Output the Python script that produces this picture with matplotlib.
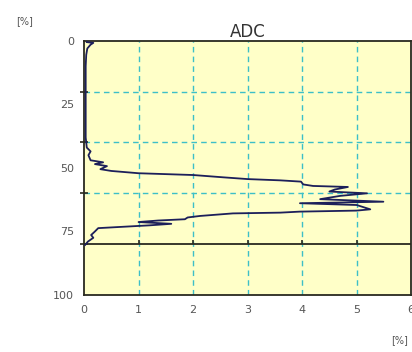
import matplotlib.pyplot as plt

# ADC profile: depth [%] vs value [%]
depth = [0.5, 0.8, 1.5, 3.0, 5.5, 10, 20, 30, 38, 42, 43.5, 45, 47, 47.8,
         48.5, 49.3, 50.5, 51.2, 52.1, 52.8, 53.7, 54.4, 54.9, 55.4, 56.5,
         57.1, 57.5, 58.5, 59.3, 60.0, 61.0, 62.3, 63.3, 63.9, 64.6, 66.3,
         66.8, 67.2, 67.6, 67.9, 68.9, 69.5, 70.2, 70.7, 71.3, 72.0, 72.6,
         73.3, 73.7, 75.0, 76.4, 77.5, 79.0, 80.3]
adc = [0.05, 0.17, 0.12, 0.06, 0.04, 0.03, 0.03, 0.03, 0.03, 0.05, 0.12,
       0.08, 0.12, 0.35, 0.2, 0.42, 0.3, 0.5, 1.0, 2.0, 2.55, 3.0, 3.6, 3.98,
       4.02, 4.2, 4.84, 4.6, 4.5, 5.19, 4.7, 4.33, 5.49, 3.96, 5.0, 5.25,
       5.0, 3.96, 3.6, 2.73, 2.13, 1.9, 1.85, 1.36, 1.0, 1.6, 1.2, 0.6, 0.26,
       0.2, 0.13, 0.17, 0.07, 0.02]

x_ticks = [0, 1, 2, 3, 4, 5, 6]
y_ticks = [0, 25, 50, 75, 100]
y_grid = [20, 40, 60]
y_limit = 80

fig = plt.figure(figsize=(4.12, 3.52), dpi=100)
ax = fig.add_axes([0.204, 0.162, 0.794, 0.722])
ax.set_facecolor('#ffffc8')

ax.set_xlim(0, 6)
ax.set_ylim(100, 0)

# grid
grid_style = dict(color='#3cbfc8', linestyle=(0, (4, 3)), linewidth=1.0, zorder=1)
for x in x_ticks[1:-1]:
    ax.axvline(x, **grid_style)
for y in y_grid:
    ax.axhline(y, **grid_style)
ax.axhline(y_limit, color='#2a2a20', linewidth=1.3, zorder=2)
ax.vlines(x_ticks[1:-1], y_limit, y_limit - 1.8, color='#2a2a20', linewidth=1.2, zorder=2)

# profile
ax.plot(adc, depth, color='#1c1f5a', linewidth=1.3, zorder=3)

ax.set_xticks(x_ticks)
ax.set_yticks(y_ticks)
ax.set_yticks(y_grid + [y_limit], minor=True)
ax.tick_params(axis='both', which='major', length=0, labelsize=8,
               labelcolor='#555555', pad=7)
ax.tick_params(axis='y', which='minor', length=6, direction='inout',
               color='#2a2a20', width=1.2)
for s in ax.spines.values():
    s.set_linewidth(1.3)
    s.set_color('#2a2a20')

ax.set_title('ADC', fontsize=12, color='#333333', pad=3)
fig.text(0.06, 0.94, '[%]', fontsize=7, color='#555555', ha='center', va='center')
fig.text(0.97, 0.035, '[%]', fontsize=7, color='#555555', ha='center', va='center')

fig.savefig('out.png', dpi=100)
